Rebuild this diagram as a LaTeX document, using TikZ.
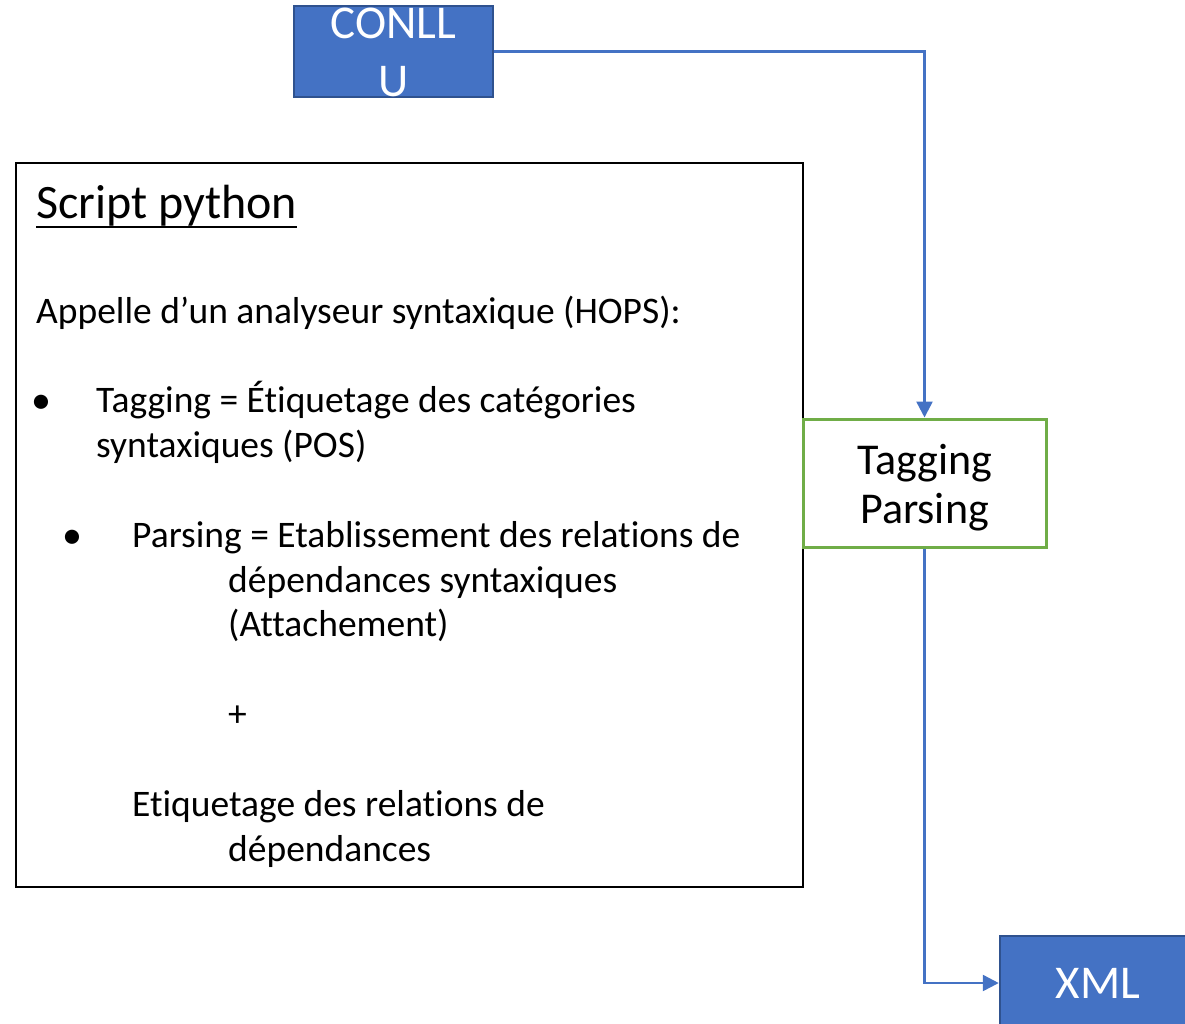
\documentclass[tikz,border=0pt]{standalone}
\usepackage{fontspec}
\setmainfont{Carlito}[Ligatures={NoCommon,NoRare}]
\usetikzlibrary{arrows.meta}
\definecolor{boxblue}{HTML}{4472C4}
\definecolor{boxedge}{HTML}{2F528F}
\definecolor{boxgreen}{HTML}{70AD47}
\begin{document}
\begin{tikzpicture}[x=1pt,y=-1pt,
  bluebox/.style={draw=boxedge, fill=boxblue, line width=2.5pt, inner sep=0pt},
  whitetext/.style={text=white, font=\fontsize{47}{56}\selectfont, inner sep=0pt, anchor=base},
  boxtext/.style={font=\fontsize{44}{52}\selectfont, inner sep=0pt, anchor=base},
  body/.style={font=\fontsize{37.5}{45}\selectfont, inner sep=0pt, anchor=base west},
  bullet/.style={font=\fontsize{40}{48}\selectfont, inner sep=0pt, anchor=base},
  flow/.style={draw=boxblue, line width=2.5pt, -{Triangle[length=16pt,width=16pt]}}]
\useasboundingbox (0,0) rectangle (1185,1023);
\clip (0,0) rectangle (1185,1023);

% input file
\node[bluebox, minimum width=199pt, minimum height=91pt] (conll) at (393.5,51.5) {};
\node[whitetext] (conllA) at (393.5,38) {CONLL};
\node[whitetext] (conllB) at (393.5,96) {U};

% description of the python script
\node[draw=black, line width=2.5pt, inner sep=0pt, minimum width=787pt, minimum height=724pt] (script) at (409.5,525) {};
\node[font=\fontsize{48}{56}\selectfont, inner sep=0pt, anchor=base west] (title) at (36,218) {Script python};
\draw[line width=2pt] ([yshift=-9pt]title.base west) -- ([yshift=-9pt]title.base east);
\node[body] (l1) at (36,323) {Appelle d’un analyseur syntaxique (HOPS):};
\node[bullet] (b1) at (41.5,413) {•};
\node[body] (l2) at (96,412) {Tagging = Étiquetage des catégories};
\node[body] (l3) at (96,457) {syntaxiques (POS)};
\node[bullet] (b2) at (72.5,548) {•};
\node[body] (l4) at (132,547) {Parsing = Etablissement des relations de};
\node[body] (l5) at (228,592) {dépendances syntaxiques};
\node[body] (l6) at (228,636) {(Attachement)};
\node[body] (l7) at (228,726) {+};
\node[body] (l8) at (132,816) {Etiquetage des relations de};
\node[body] (l9) at (228,861) {dépendances};

% processing step
\node[draw=boxgreen, fill=white, line width=3pt, inner sep=0pt, minimum width=243pt, minimum height=128pt] (tag) at (924.5,483) {};
\node[boxtext] (tagA) at (924.5,474) {Tagging};
\node[boxtext] (tagB) at (924.5,523) {Parsing};

% output file
\node[bluebox, minimum width=196pt, minimum height=94pt] (xml) at (1098,983) {};
\node[whitetext] (xmlA) at (1098,998) {XML};

% flow
\draw[flow] (conll.east) -| (tag.north);
\draw[flow] (tag.south) |- (xml.west);
\end{tikzpicture}
\end{document}
